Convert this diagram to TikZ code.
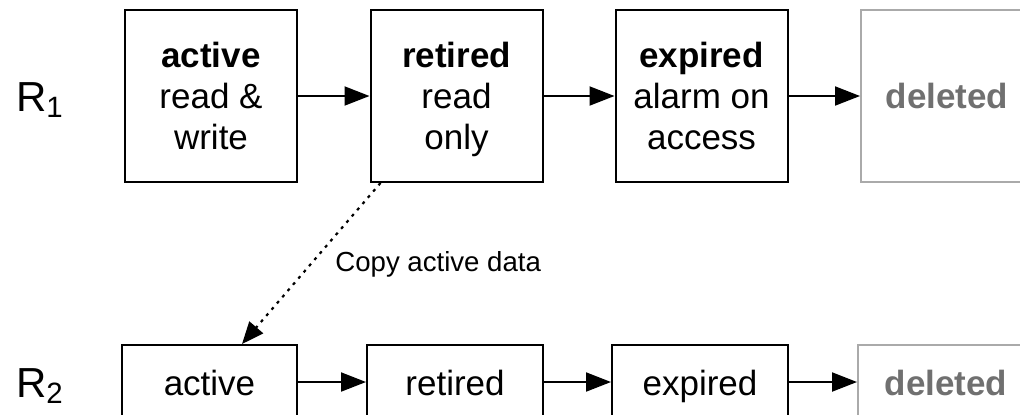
\documentclass[tikz,border=0pt]{standalone}
\usepackage{fontspec}
\setmainfont{Liberation Sans}
\usetikzlibrary{arrows.meta,calc}
\definecolor{fadeline}{HTML}{AAAAAA}
\definecolor{fadetext}{HTML}{707070}
% line strut that keeps every line of a box on the same baseline grid
\newcommand{\linestrut}{\rule[-4.15pt]{0pt}{20.5pt}}
\begin{document}
\begin{tikzpicture}[x=0.5pt,y=-0.5pt,
  box/.style={draw=black,line width=1pt,align=center,inner sep=0pt,
    font=\fontsize{17.5}{20.5}\selectfont},
  bigbox/.style={box,minimum width=86pt,minimum height=86pt},
  smallbox/.style={box,minimum width=88pt,minimum height=38pt},
  gone/.style={draw=fadeline,text=fadetext,font=\fontsize{17.5}{20.5}\selectfont\bfseries},
  flow/.style={line width=1pt,-{Triangle[length=12.5pt,width=9.5pt]}},
  copyflow/.style={line width=1.1pt,dash pattern=on 1.5pt off 2.6pt,-{Triangle[length=11pt,width=9pt]}},
  rowlabel/.style={font=\fontsize{21}{24}\selectfont,inner sep=0pt},
  note/.style={font=\fontsize{13.8}{16}\selectfont,inner sep=0pt,anchor=west}]
\useasboundingbox (0,0) rectangle (1020,414);
\clip (0,0) rectangle (1020,414);

% first generation
\node[rowlabel] (r1) at (40,100) {R\textsubscript{1}};
\node[bigbox] (a1) at (211,96) {\linestrut\textbf{active}\\\linestrut read \&\\\linestrut write};
\node[bigbox] (t1) at (456.5,96) {\linestrut\textbf{retired}\\\linestrut read\\\linestrut only};
\node[bigbox] (e1) at (701.5,96) {\linestrut\textbf{expired}\\\linestrut alarm on\\\linestrut access};
\node[bigbox,gone] (d1) at (947,96) {\linestrut deleted};
\draw[flow] (a1) -- (t1);
\draw[flow] (t1) -- (e1);
\draw[flow] (e1) -- (d1);

% second generation
\node[rowlabel] (r2) at (40,386) {R\textsubscript{2}};
\node[smallbox,minimum width=87.5pt] (a2) at (209.5,383) {\linestrut active};
\node[smallbox] (t2) at (455,383) {\linestrut retired};
\node[smallbox] (e2) at (700,383) {\linestrut expired};
\node[smallbox,gone] (d2) at (946,383) {\linestrut deleted};
\draw[flow] (a2.east |- 0,382) -- (t2.west |- 0,382);
\draw[flow] (t2.east |- 0,382) -- (e2.west |- 0,382);
\draw[flow] (e2.east |- 0,382) -- (d2.west |- 0,382);

% migration of live data
\coordinate (cfrom) at ($(t1.south west)+(11,0)$);
\coordinate (cto) at ($(a2.north west)+(121,0)$);
\draw[copyflow] (cfrom) -- (cto);
\node[note] (cap) at (335,264) {Copy active data};
\end{tikzpicture}
\end{document}
